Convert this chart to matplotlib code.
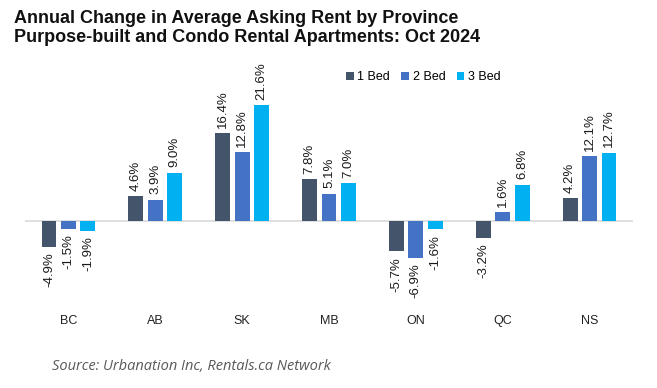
import numpy as np
import matplotlib.pyplot as plt

plt.rcParams['font.family'] = ['Liberation Sans', 'DejaVu Sans']

provinces = ['BC', 'AB', 'SK', 'MB', 'ON', 'QC', 'NS']
bed1 = [-4.9, 4.6, 16.4, 7.8, -5.7, -3.2, 4.2]
bed2 = [-1.5, 3.9, 12.8, 5.1, -6.9, 1.6, 12.1]
bed3 = [-1.9, 9.0, 21.6, 7.0, -1.6, 6.8, 12.7]
series = ['1 Bed', '2 Bed', '3 Bed']
colors = ['#44546A', '#4472C4', '#00B0F0']

W, H = 657, 388
fig = plt.figure(figsize=(W / 100, H / 100), dpi=100)
# axes placed in pixel terms
left, right, top, bottom = 25, 633, 60, 308
ax = fig.add_axes([left / W, 1 - bottom / H, (right - left) / W, (bottom - top) / H])

x = np.arange(len(provinces))
width = 0.172
offs = [-0.224, 0, 0.224]
for vals, off, c, name in zip([bed1, bed2, bed3], offs, colors, series):
    bars = ax.bar(x + off, vals, width, color=c, label=name, zorder=3)
    for b, v in zip(bars, vals):
        if v >= 0:
            ax.annotate(f'{v:.1f}%', (b.get_x() + b.get_width() / 2, v),
                        xytext=(0, 4), textcoords='offset points',
                        rotation=90, ha='center', va='bottom', fontsize=9.5, color='#1a1a1a')
        else:
            ax.annotate(f'{v:.1f}%', (b.get_x() + b.get_width() / 2, v),
                        xytext=(0, -4), textcoords='offset points',
                        rotation=90, ha='center', va='top', fontsize=9.5, color='#1a1a1a')

ax.axhline(0, color='#D9D9D9', lw=1.2, zorder=2)
ax.set_xlim(-0.5, 6.5)
ax.set_ylim(-16.3, 30.1)
ax.set_xticks(x)
ax.set_xticklabels(provinces, fontsize=9, color='#222222')
ax.tick_params(axis='x', length=0, pad=5)
ax.set_yticks([])
for s in ax.spines.values():
    s.set_visible(False)

ax.legend(loc='upper left', bbox_to_anchor=((335 - left) / (right - left), 1.0),
          ncol=3, frameon=False, fontsize=9, handlelength=0.6, handleheight=0.6,
          handletextpad=0.3, columnspacing=0.9)

fig.text(14 / W, 1 - 10 / H, 'Annual Change in Average Asking Rent by Province\n'
         'Purpose-built and Condo Rental Apartments: Oct 2024',
         fontsize=13, fontweight='bold', va='top', ha='left', color='#111111', linespacing=1.15)
fig.text(52 / W, 1 - 366 / H, 'Source: Urbanation Inc, Rentals.ca Network',
         fontsize=10.5, style='italic', color='#595959', va='center', ha='left', family='Open Sans')

fig.savefig('out.png', dpi=100)
